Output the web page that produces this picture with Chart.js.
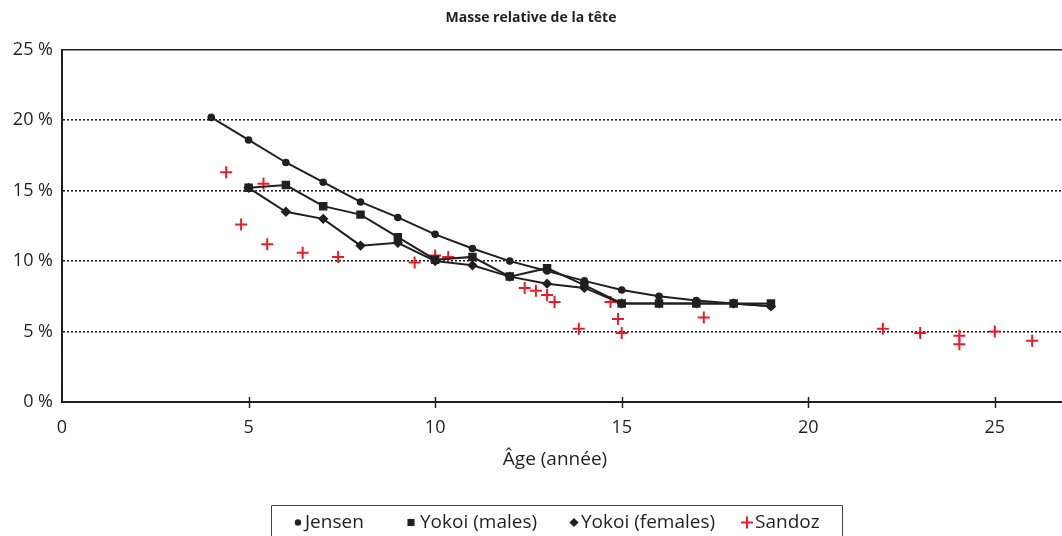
<!DOCTYPE html>
<html><head><meta charset="utf-8">
<script src="https://cdn.jsdelivr.net/npm/chart.js@4/dist/chart.umd.min.js"></script>
<style>html,body{margin:0;padding:0;background:#fff}#wrap{width:1062px;height:536px}</style>
</head><body><div id="wrap"><canvas id="c" width="1062" height="536"></canvas></div>
<script>
const titleText = 'Masse relative de la tête';
const xTitle = 'Âge (année)';
const seriesNames = ['Jensen', 'Yokoi (males)', 'Yokoi (females)', 'Sandoz'];

const jensenAge = [4, 5, 6, 7, 8, 9, 10, 11, 12, 13, 14, 15, 16, 17, 18, 19];
const jensenMass = [20.2, 18.6, 17.0, 15.6, 14.2, 13.1, 11.9, 10.9, 10.0, 9.3, 8.6, 7.95, 7.5, 7.2, 7.0, 6.8];

const yokoiMAge = [5, 6, 7, 8, 9, 10, 11, 12, 13, 14, 15, 16, 17, 18, 19];
const yokoiMMass = [15.2, 15.4, 13.9, 13.3, 11.7, 10.1, 10.3, 8.9, 9.5, 8.3, 7.0, 7.0, 7.0, 7.0, 7.0];

const yokoiFAge = [5, 6, 7, 8, 9, 10, 11, 12, 13, 14, 15, 16, 17, 18, 19];
const yokoiFMass = [15.2, 13.5, 13.0, 11.1, 11.3, 10.0, 9.7, 8.9, 8.4, 8.1, 7.0, 7.0, 7.0, 7.0, 6.8];

const sandozAge = [4.4, 4.8, 5.4, 5.5, 6.45, 7.4, 9.45, 10.0, 10.35, 12.4, 12.7, 13.0, 13.2, 13.85, 14.7, 14.9, 15.0, 17.2, 22.0, 23.0, 24.05, 24.05, 25.0, 26.0];
const sandozMass = [16.3, 12.6, 15.5, 11.2, 10.6, 10.3, 9.9, 10.4, 10.3, 8.1, 7.9, 7.6, 7.1, 5.2, 7.1, 5.9, 4.9, 6.0, 5.2, 4.9, 4.7, 4.1, 5.0, 4.35];

const yTicks = [0, 5, 10, 15, 20, 25];
const xTicks = [0, 5, 10, 15, 20, 25];

const INK = '#231f20';
const RED = '#ed1c24';
const FONT = '"Open Sans", "Noto Sans", sans-serif';

const pts = (xs, ys) => xs.map((x, i) => ({x, y: ys[i]}));

const frame = {
  id: 'frame',
  afterDatasetsDraw(chart) {
    const {ctx, chartArea: a, scales: {x}} = chart;
    ctx.save();
    ctx.strokeStyle = INK;
    ctx.lineWidth = 1.5;
    ctx.beginPath();
    ctx.moveTo(a.left, a.top); ctx.lineTo(a.right, a.top);
    ctx.stroke();
    xTicks.forEach(v => {
      if (v === 0) return;
      const px = Math.round(x.getPixelForValue(v)) + 0.5;
      ctx.beginPath();
      ctx.moveTo(px, a.bottom - 5); ctx.lineTo(px, a.bottom + 6);
      ctx.stroke();
    });
    ctx.restore();
  },
  afterDraw(chart) {
    const {ctx, scales: {x}} = chart;
    const ds = chart.data.datasets;
    ctx.save();
    // x axis title
    ctx.fillStyle = INK;
    ctx.font = '19px ' + FONT;
    ctx.textAlign = 'center';
    ctx.textBaseline = 'middle';
    ctx.fillText(xTitle, 555, 460);
    // legend
    ctx.textAlign = 'left';
    const boxL = 271, boxT = 505.5, boxR = 842;
    ctx.strokeStyle = '#444';
    ctx.lineWidth = 1;
    ctx.beginPath();
    ctx.moveTo(boxL + 0.5, 540); ctx.lineTo(boxL + 0.5, boxT); ctx.lineTo(boxR + 0.5, boxT); ctx.lineTo(boxR + 0.5, 540);
    ctx.stroke();
    ctx.font = '19px ' + FONT;
    const yMid = 522.5;
    const markX = [298, 411, 574, 747];
    const textX = [305, 420, 581, 755];
    const radii = [3.2, 5, 4.6, 6];
    ds.forEach((d, i) => {
      const isRed = i === 3;
      ctx.strokeStyle = isRed ? RED : INK;
      ctx.fillStyle = isRed ? RED : INK;
      ctx.lineWidth = isRed ? 2 : 1;
      Chart.helpers.drawPoint(ctx, {pointStyle: d.pointStyle, radius: radii[i], borderWidth: isRed ? 2 : 0, rotation: 0}, markX[i], yMid);
      ctx.fillStyle = INK;
      ctx.fillText(d.label, textX[i], yMid);
    });
    ctx.restore();
  }
};

new Chart(document.getElementById('c'), {
  type: 'scatter',
  data: {
    datasets: [
      {label: seriesNames[0], data: pts(jensenAge, jensenMass), showLine: true, borderColor: INK, backgroundColor: INK, borderWidth: 2, pointStyle: 'circle', pointRadius: 3.8, pointBorderWidth: 0},
      {label: seriesNames[1], data: pts(yokoiMAge, yokoiMMass), showLine: true, borderColor: INK, backgroundColor: INK, borderWidth: 2, pointStyle: 'rect', pointRadius: 6, pointBorderWidth: 0},
      {label: seriesNames[2], data: pts(yokoiFAge, yokoiFMass), showLine: true, borderColor: INK, backgroundColor: INK, borderWidth: 2, pointStyle: 'rectRot', pointRadius: 5.2, pointBorderWidth: 0},
      {label: seriesNames[3], data: pts(sandozAge, sandozMass), showLine: false, borderColor: RED, backgroundColor: RED, pointStyle: 'cross', pointRadius: 6, pointBorderWidth: 2}
    ]
  },
  options: {
    responsive: false,
    animation: false,
    layout: {autoPadding: false, padding: {left: 0, right: 0, top: 0, bottom: 64}},
    plugins: {
      legend: {display: false},
      tooltip: {enabled: false},
      title: {display: true, text: titleText, color: INK, font: {family: FONT, size: 14, weight: 'bold', lineHeight: 1.2}, padding: {top: 10, bottom: 23}}
    },
    scales: {
      x: {
        type: 'linear', min: 0, max: 26.8,
        afterBuildTicks: s => { s.ticks = xTicks.map(v => ({value: v})); },
        afterFit: s => { s.height = 70; },
        grid: {display: false},
        border: {display: true, color: INK, width: 2},
        ticks: {color: INK, font: {family: FONT, size: 18}, padding: 7, maxRotation: 0, autoSkip: false},
        title: {display: false}
      },
      y: {
        min: 0, max: 25,
        afterBuildTicks: s => { s.ticks = yTicks.map(v => ({value: v})); },
        afterFit: s => { s.width = 62; },
        grid: {drawTicks: false, color: c => (c.tick && (c.tick.value === 0 || c.tick.value === 25)) ? 'rgba(0,0,0,0)' : INK, lineWidth: 1.6},
        border: {display: true, color: INK, width: 2, dash: [2, 2]},
        ticks: {color: INK, font: {family: FONT, size: 18}, padding: 9, callback: v => v + ' %'}
      }
    }
  },
  plugins: [frame]
});
</script>
</body></html>
